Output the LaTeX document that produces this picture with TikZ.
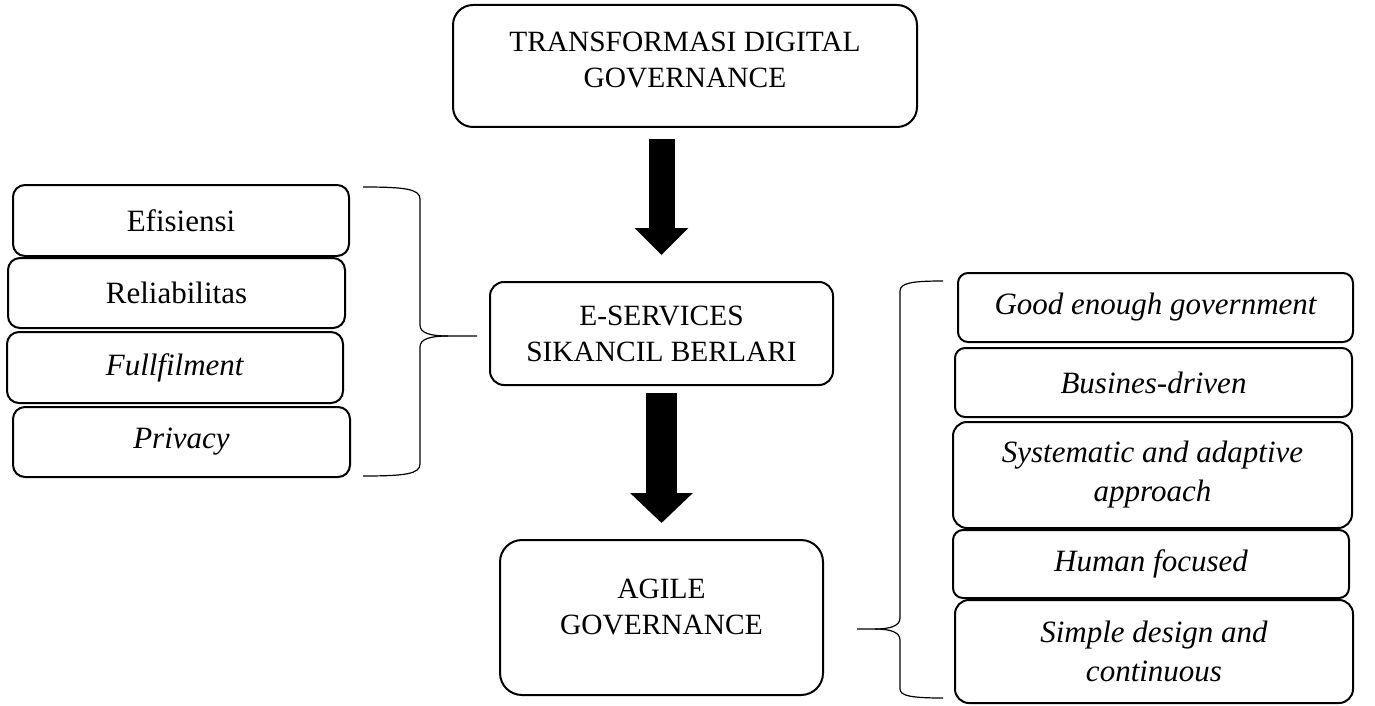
\documentclass[tikz,border=0pt]{standalone}
\usepackage{fontspec}
\setmainfont{Liberation Serif}
\usetikzlibrary{arrows.meta}

\tikzset{
  headbox/.style={draw, line width=1pt, rounded corners=10pt, align=center,
    font=\fontsize{14.7}{18}\selectfont, inner sep=0pt, outer sep=0pt},
  headtext/.style={align=center, font=\fontsize{14.7}{18}\selectfont},
  leftbox/.style={draw, line width=1pt, rounded corners=6pt, align=center,
    font=\fontsize{15.5}{19}\selectfont, inner sep=0pt, outer sep=0pt},
  rightbox/.style={leftbox, rounded corners=5pt,
    font=\fontsize{15.5}{19.5}\selectfont\itshape},
  bigarrow/.style={line width=13pt, -{Triangle[length=13.5pt,width=26pt]}},
  brace/.style={line width=0.6pt},
}

\begin{document}
\begin{tikzpicture}[x=0.5pt,y=-0.5pt]
  \useasboundingbox (0,0) rectangle (1375,706);

  % middle column
  \node[headbox, minimum width=232pt, minimum height=61pt] (tdg) at (685,66) {};
  \node[headtext] (tdgtext) at (685,60) {TRANSFORMASI DIGITAL\\GOVERNANCE};
  \node[headbox, rounded corners=7pt, minimum width=171.5pt, minimum height=51.5pt]
    (esv) at (661.5,333.5) {E-SERVICES\\SIKANCIL BERLARI};
  \node[headbox, rounded corners=11pt, minimum width=161.5pt, minimum height=77.5pt]
    (agile) at (661.5,617.5) {};
  \node[headtext] (agiletext) at (661.5,607) {AGILE\\GOVERNANCE};

  \draw[bigarrow, shorten <=6pt, shorten >=13.5pt] (tdg.south -| agile.north) -- (esv.north);
  \draw[bigarrow, line width=15.5pt, -{Triangle[length=15pt,width=30.5pt]},
    shorten <=4pt, shorten >=8.5pt] (esv.south) -- (agile.north);

  % left list
  \node[leftbox, minimum width=168pt, minimum height=35.5pt] (efi) at (181,220.5) {Efisiensi};
  \node[leftbox, minimum width=168.5pt, minimum height=35pt] (rel) at (176.5,293) {Reliabilitas};
  \node[leftbox, minimum width=168pt, minimum height=35.5pt] (ful) at (175,367.5) {\textit{Fullfilment}};
  \node[leftbox, minimum width=168.5pt, minimum height=35pt] (pri) at (181.5,442) {\textit{Privacy}};

  \draw[brace] (363,187) .. controls (405,187) and (420,189) .. (420,199) -- (420,325)
    .. controls (420,333) and (430,336) .. (448,336) -- (477,336);
  \draw[brace] (448,336) .. controls (430,336) and (420,339) .. (420,347) -- (420,464)
    .. controls (420,474) and (405,476) .. (363,476);

  % right list
  \node[rightbox, minimum width=197.5pt, minimum height=34.5pt] (good) at (1155.5,307.5) {Good enough government};
  \node[rightbox, minimum width=198.5pt, minimum height=34.5pt] (bus) at (1153.5,382.5) {Busines-driven};
  \node[rightbox, rounded corners=7pt, minimum width=199.5pt, minimum height=53pt]
    (sys) at (1152.5,475) {Systematic and adaptive\\approach};
  \node[rightbox, minimum width=198pt, minimum height=34pt] (hum) at (1151,564) {Human focused};
  \node[rightbox, rounded corners=7pt, minimum width=199pt, minimum height=51.5pt]
    (sim) at (1154,651.5) {Simple design and\\continuous};

  \draw[brace] (943,281) .. controls (912,281) and (900,283) .. (900,291) -- (900,618)
    .. controls (900,626) and (890,629) .. (875,629) -- (857,629);
  \draw[brace] (875,629) .. controls (890,629) and (900,632) .. (900,640) -- (900,689)
    .. controls (900,696) and (912,698) .. (943,698);
\end{tikzpicture}
\end{document}
